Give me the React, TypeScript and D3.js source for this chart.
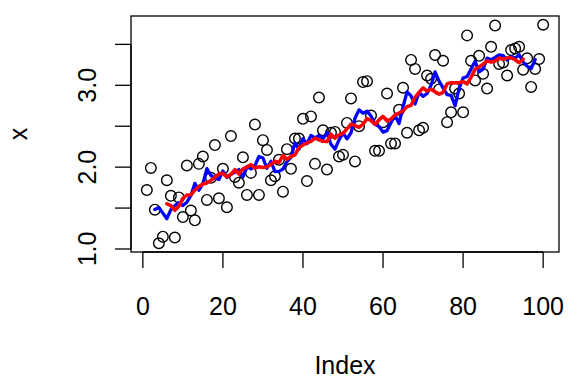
import React, { useEffect, useRef } from 'react'
import * as d3 from 'd3'

// series, index 1..100
const values = [
  1.72, 1.99, 1.48, 1.07, 1.15, 1.84, 1.65, 1.14, 1.63, 1.39,
  2.02, 1.47, 1.35, 2.04, 2.13, 1.60, 1.87, 2.27, 1.62, 1.98,
  1.51, 2.38, 1.88, 1.81, 2.12, 1.66, 1.93, 2.52, 1.66, 2.33,
  2.21, 1.84, 1.89, 2.09, 1.70, 2.22, 1.98, 2.35, 2.35, 2.59,
  1.83, 2.62, 2.04, 2.85, 2.45, 1.97, 2.42, 2.43, 2.13, 2.15,
  2.54, 2.84, 2.07, 2.50, 3.04, 3.05, 2.63, 2.20, 2.20, 2.55,
  2.90, 2.29, 2.29, 2.70, 2.97, 2.42, 3.31, 3.20, 2.45, 2.48,
  3.12, 3.08, 3.37, 2.95, 3.30, 2.55, 2.67, 2.96, 2.90, 2.67,
  3.61, 3.30, 3.06, 3.36, 3.14, 2.96, 3.47, 3.73, 3.26, 3.28,
  3.12, 3.43, 3.45, 3.47, 3.19, 3.33, 2.98, 3.20, 3.32, 3.74,
]

const xTicks = [0, 20, 40, 60, 80, 100]
const yTicks = [1, 1.5, 2, 2.5, 3, 3.5]
const yTickLabels = ['1.0', '', '2.0', '', '3.0', '']
const xTitle = 'Index'
const yTitle = 'x'

// centred moving average, like filter(x, rep(1/k, k))
const movingAverage = (arr: number[], k: number) => {
  const half = Math.floor(k / 2)
  const out: [number, number][] = []
  for (let i = half; i < arr.length - half; i++) {
    out.push([i + 1, d3.mean(arr.slice(i - half, i + half + 1)) as number])
  }
  return out
}

export default function App() {
  const ref = useRef<SVGSVGElement>(null)

  useEffect(() => {
    const svg = d3.select(ref.current)
    svg.selectAll('*').remove()

    const box = { left: 131, right: 559, top: 16, bottom: 252 }
    const font = '"Liberation Sans", Arial, sans-serif'
    const fs = 25

    const n = values.length
    const xPad = (n - 1) * 0.04
    const x = d3.scaleLinear().domain([1 - xPad, n + xPad]).range([box.left, box.right])
    const [lo, hi] = d3.extent(values) as [number, number]
    const yPad = (hi - lo) * 0.04
    const y = d3.scaleLinear().domain([lo - yPad, hi + yPad]).range([box.bottom, box.top])

    // points
    svg.append('g')
      .selectAll('circle')
      .data(values).enter()
      .append('circle')
      .attr('cx', (d, i) => x(i + 1))
      .attr('cy', d => y(d))
      .attr('r', 5.3)
      .attr('fill', 'none')
      .attr('stroke', 'black')
      .attr('stroke-width', 1.4)

    const line = d3.line<[number, number]>()
      .x(d => x(d[0]))
      .y(d => y(d[1]))

    svg.append('path')
      .attr('d', line(movingAverage(values, 5)))
      .attr('fill', 'none')
      .attr('stroke', '#0000ff')
      .attr('stroke-width', 3.3)
      .attr('stroke-linejoin', 'round')
      .attr('stroke-linecap', 'round')

    svg.append('path')
      .attr('d', line(movingAverage(values, 11)))
      .attr('fill', 'none')
      .attr('stroke', '#ff0000')
      .attr('stroke-width', 3.5)
      .attr('stroke-linejoin', 'round')
      .attr('stroke-linecap', 'round')

    // frame
    svg.append('rect')
      .attr('x', box.left)
      .attr('y', box.top)
      .attr('width', box.right - box.left)
      .attr('height', box.bottom - box.top)
      .attr('fill', 'none')
      .attr('stroke', 'black')
      .attr('stroke-width', 1.3)

    // x axis
    const gx = svg.append('g')
    gx.append('line')
      .attr('x1', x(xTicks[0])).attr('x2', x(xTicks[xTicks.length - 1]))
      .attr('y1', box.bottom).attr('y2', box.bottom)
      .attr('stroke', 'black').attr('stroke-width', 1.3)
    gx.selectAll('line.tick')
      .data(xTicks).enter()
      .append('line')
      .attr('class', 'tick')
      .attr('x1', d => x(d)).attr('x2', d => x(d))
      .attr('y1', box.bottom).attr('y2', box.bottom + 16)
      .attr('stroke', 'black').attr('stroke-width', 1.3)
    gx.selectAll('text')
      .data(xTicks).enter()
      .append('text')
      .attr('x', d => x(d))
      .attr('y', 315)
      .attr('text-anchor', 'middle')
      .attr('font-family', font)
      .attr('font-size', fs)
      .text(d => String(d))

    // y axis
    const gy = svg.append('g')
    gy.append('line')
      .attr('x1', box.left).attr('x2', box.left)
      .attr('y1', y(yTicks[0])).attr('y2', y(yTicks[yTicks.length - 1]))
      .attr('stroke', 'black').attr('stroke-width', 1.3)
    gy.selectAll('line.tick')
      .data(yTicks).enter()
      .append('line')
      .attr('class', 'tick')
      .attr('x1', box.left).attr('x2', box.left - 16)
      .attr('y1', d => y(d)).attr('y2', d => y(d))
      .attr('stroke', 'black').attr('stroke-width', 1.3)
    gy.selectAll('text')
      .data(yTicks).enter()
      .append('text')
      .attr('transform', d => `translate(96,${y(d)}) rotate(-90)`)
      .attr('text-anchor', 'middle')
      .attr('font-family', font)
      .attr('font-size', fs)
      .text((d, i) => yTickLabels[i])

    // titles
    svg.append('text')
      .attr('x', (box.left + box.right) / 2)
      .attr('y', 374)
      .attr('text-anchor', 'middle')
      .attr('font-family', font)
      .attr('font-size', fs)
      .text(xTitle)

    svg.append('text')
      .attr('transform', `translate(27,${(box.top + box.bottom) / 2}) rotate(-90)`)
      .attr('text-anchor', 'middle')
      .attr('font-family', font)
      .attr('font-size', fs)
      .text(yTitle)
  }, [])

  return (
    <svg ref={ref} width={576} height={384}
      style={{ position: 'absolute', left: 0, top: 0, background: 'white' }} />
  )
}
